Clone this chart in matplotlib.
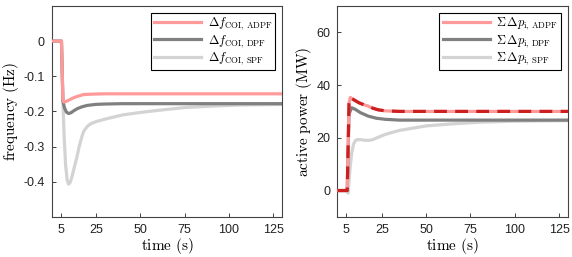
import matplotlib
matplotlib.use("Agg")
import matplotlib.pyplot as plt

plt.rcParams['mathtext.fontset'] = 'cm'

# ---- frequency panel data ----
t_f_adpf = [0, 5.5, 6.3, 6.8, 8, 10, 12, 14, 16, 18, 22, 30, 130]
f_adpf = [0, 0, -0.165, -0.173, -0.172, -0.167, -0.162, -0.158, -0.155, -0.152, -0.151, -0.150, -0.150]

t_f_dpf = [0, 5.5, 6.3, 7.2, 8.3, 9.5, 10.8, 12.5, 14.5, 17, 20, 25, 30, 40, 130]
f_dpf = [0, 0, -0.17, -0.19, -0.202, -0.206, -0.204, -0.198, -0.192, -0.187, -0.183, -0.180, -0.179, -0.178, -0.178]

t_f_spf = [0, 5.5, 6.3, 7.0, 7.8, 8.7, 9.5, 10.3, 11.2, 12.2, 13.2, 14.2, 15.5, 17, 18, 20, 22, 25, 30,
           40, 50, 60, 75, 90, 105, 130]
f_spf = [0, 0, -0.17, -0.27, -0.35, -0.395, -0.407, -0.403, -0.39, -0.37, -0.35, -0.33, -0.30, -0.272,
         -0.257, -0.243, -0.235, -0.229, -0.222, -0.21, -0.203, -0.197, -0.189, -0.185, -0.182, -0.180]

# ---- active power panel data ----
t_p_adpf = [0, 5.5, 6.5, 7.2, 9, 12, 15, 17, 20, 23, 27, 35, 130]
p_adpf = [0, 0, 33, 35.3, 34.5, 33.3, 32.5, 32.1, 31.2, 30.6, 30.2, 30.0, 30.0]

t_p_dpf = [0, 5.5, 6.5, 8, 10, 13, 17.4, 22, 27, 35, 130]
p_dpf = [0, 0, 29, 31.4, 30.8, 29.5, 28.2, 27.4, 27.0, 26.7, 26.7]

t_p_spf = [0, 5.5, 6.0, 7, 8, 9, 10, 11, 13, 15, 17.4, 20, 23, 27, 35, 50, 65, 80, 100, 130]
p_spf = [0, 0, -1, 8, 14, 17.5, 18.8, 19.3, 19.3, 19.1, 19.0, 19.3, 20.2, 21.3, 22.8, 24.5, 25.3,
         25.9, 26.3, 26.5]

xticks = [5, 25, 50, 75, 100, 125]
f_ticks = [0, -0.1, -0.2, -0.3, -0.4]
f_ticklabels = ['0', '-0.1', '-0.2', '-0.3', '-0.4']
p_ticks = [0, 20, 40, 60]

c_adpf = '#ff9a9a'
c_dpf = '#808080'
c_spf = '#d3d3d3'
c_red = '#cc1f1f'
lw = 2.3

fig = plt.figure(figsize=(5.72, 2.57), dpi=100)
ax1 = fig.add_axes([0.0904, 0.156, 0.403, 0.821])
ax2 = fig.add_axes([0.590, 0.156, 0.403, 0.821])

ax1.plot(t_f_adpf, f_adpf, color=c_adpf, lw=lw, label=r'$\Delta f_{\mathrm{COI,\,ADPF}}$', zorder=3)
ax1.plot(t_f_dpf, f_dpf, color=c_dpf, lw=lw, label=r'$\Delta f_{\mathrm{COI,\,DPF}}$', zorder=2)
ax1.plot(t_f_spf, f_spf, color=c_spf, lw=lw, label=r'$\Delta f_{\mathrm{COI,\,SPF}}$', zorder=1)
ax1.set_xlim(0, 130)
ax1.set_ylim(-0.5, 0.1)
ax1.set_yticks(f_ticks)
ax1.set_yticklabels(f_ticklabels)
ax1.set_ylabel(r'$\mathrm{frequency\ (Hz)}$', fontsize=11, labelpad=2)

ax2.plot(t_p_spf, p_spf, color=c_spf, lw=lw, label=r'$\Sigma\,\Delta p_{\mathrm{i,\,SPF}}$', zorder=1)
ax2.plot(t_p_dpf, p_dpf, color=c_dpf, lw=lw, label=r'$\Sigma\,\Delta p_{\mathrm{i,\,DPF}}$', zorder=2)
ax2.plot(t_p_adpf, p_adpf, color=c_adpf, lw=lw, label=r'$\Sigma\,\Delta p_{\mathrm{i,\,ADPF}}$', zorder=3)
ax2.plot(t_p_adpf, p_adpf, color=c_red, lw=lw, dashes=(4, 2.6), zorder=4)
ax2.set_xlim(0, 130)
ax2.set_ylim(-10, 70)
ax2.set_yticks(p_ticks)
ax2.set_ylabel(r'$\mathrm{active\ power\ (MW)}$', fontsize=11, labelpad=2)

for ax in (ax1, ax2):
    ax.set_xticks(xticks)
    ax.set_xlabel(r'$\mathrm{time\ (s)}$', fontsize=11, labelpad=0)
    ax.tick_params(direction='in', length=3, width=0.6, labelsize=9, colors='#222222',
                   pad=5)
    for lab in ax.get_xticklabels() + ax.get_yticklabels():
        lab.set_fontfamily('Liberation Sans')
    for s in ax.spines.values():
        s.set_color('#444444')
        s.set_linewidth(0.8)

h, l = ax2.get_legend_handles_labels()
order = [2, 1, 0]
leg_kw = dict(loc='upper right', fontsize=9, frameon=True, fancybox=False, edgecolor='black',
              framealpha=1, borderpad=0.25, labelspacing=0.05, handlelength=3.8, handletextpad=0.5,
              borderaxespad=0.55)
leg1 = ax1.legend(**leg_kw)
leg2 = ax2.legend([h[i] for i in order], [l[i] for i in order], **leg_kw)
for leg in (leg1, leg2):
    leg.get_frame().set_linewidth(0.8)

fig.savefig('out.png', dpi=100)
